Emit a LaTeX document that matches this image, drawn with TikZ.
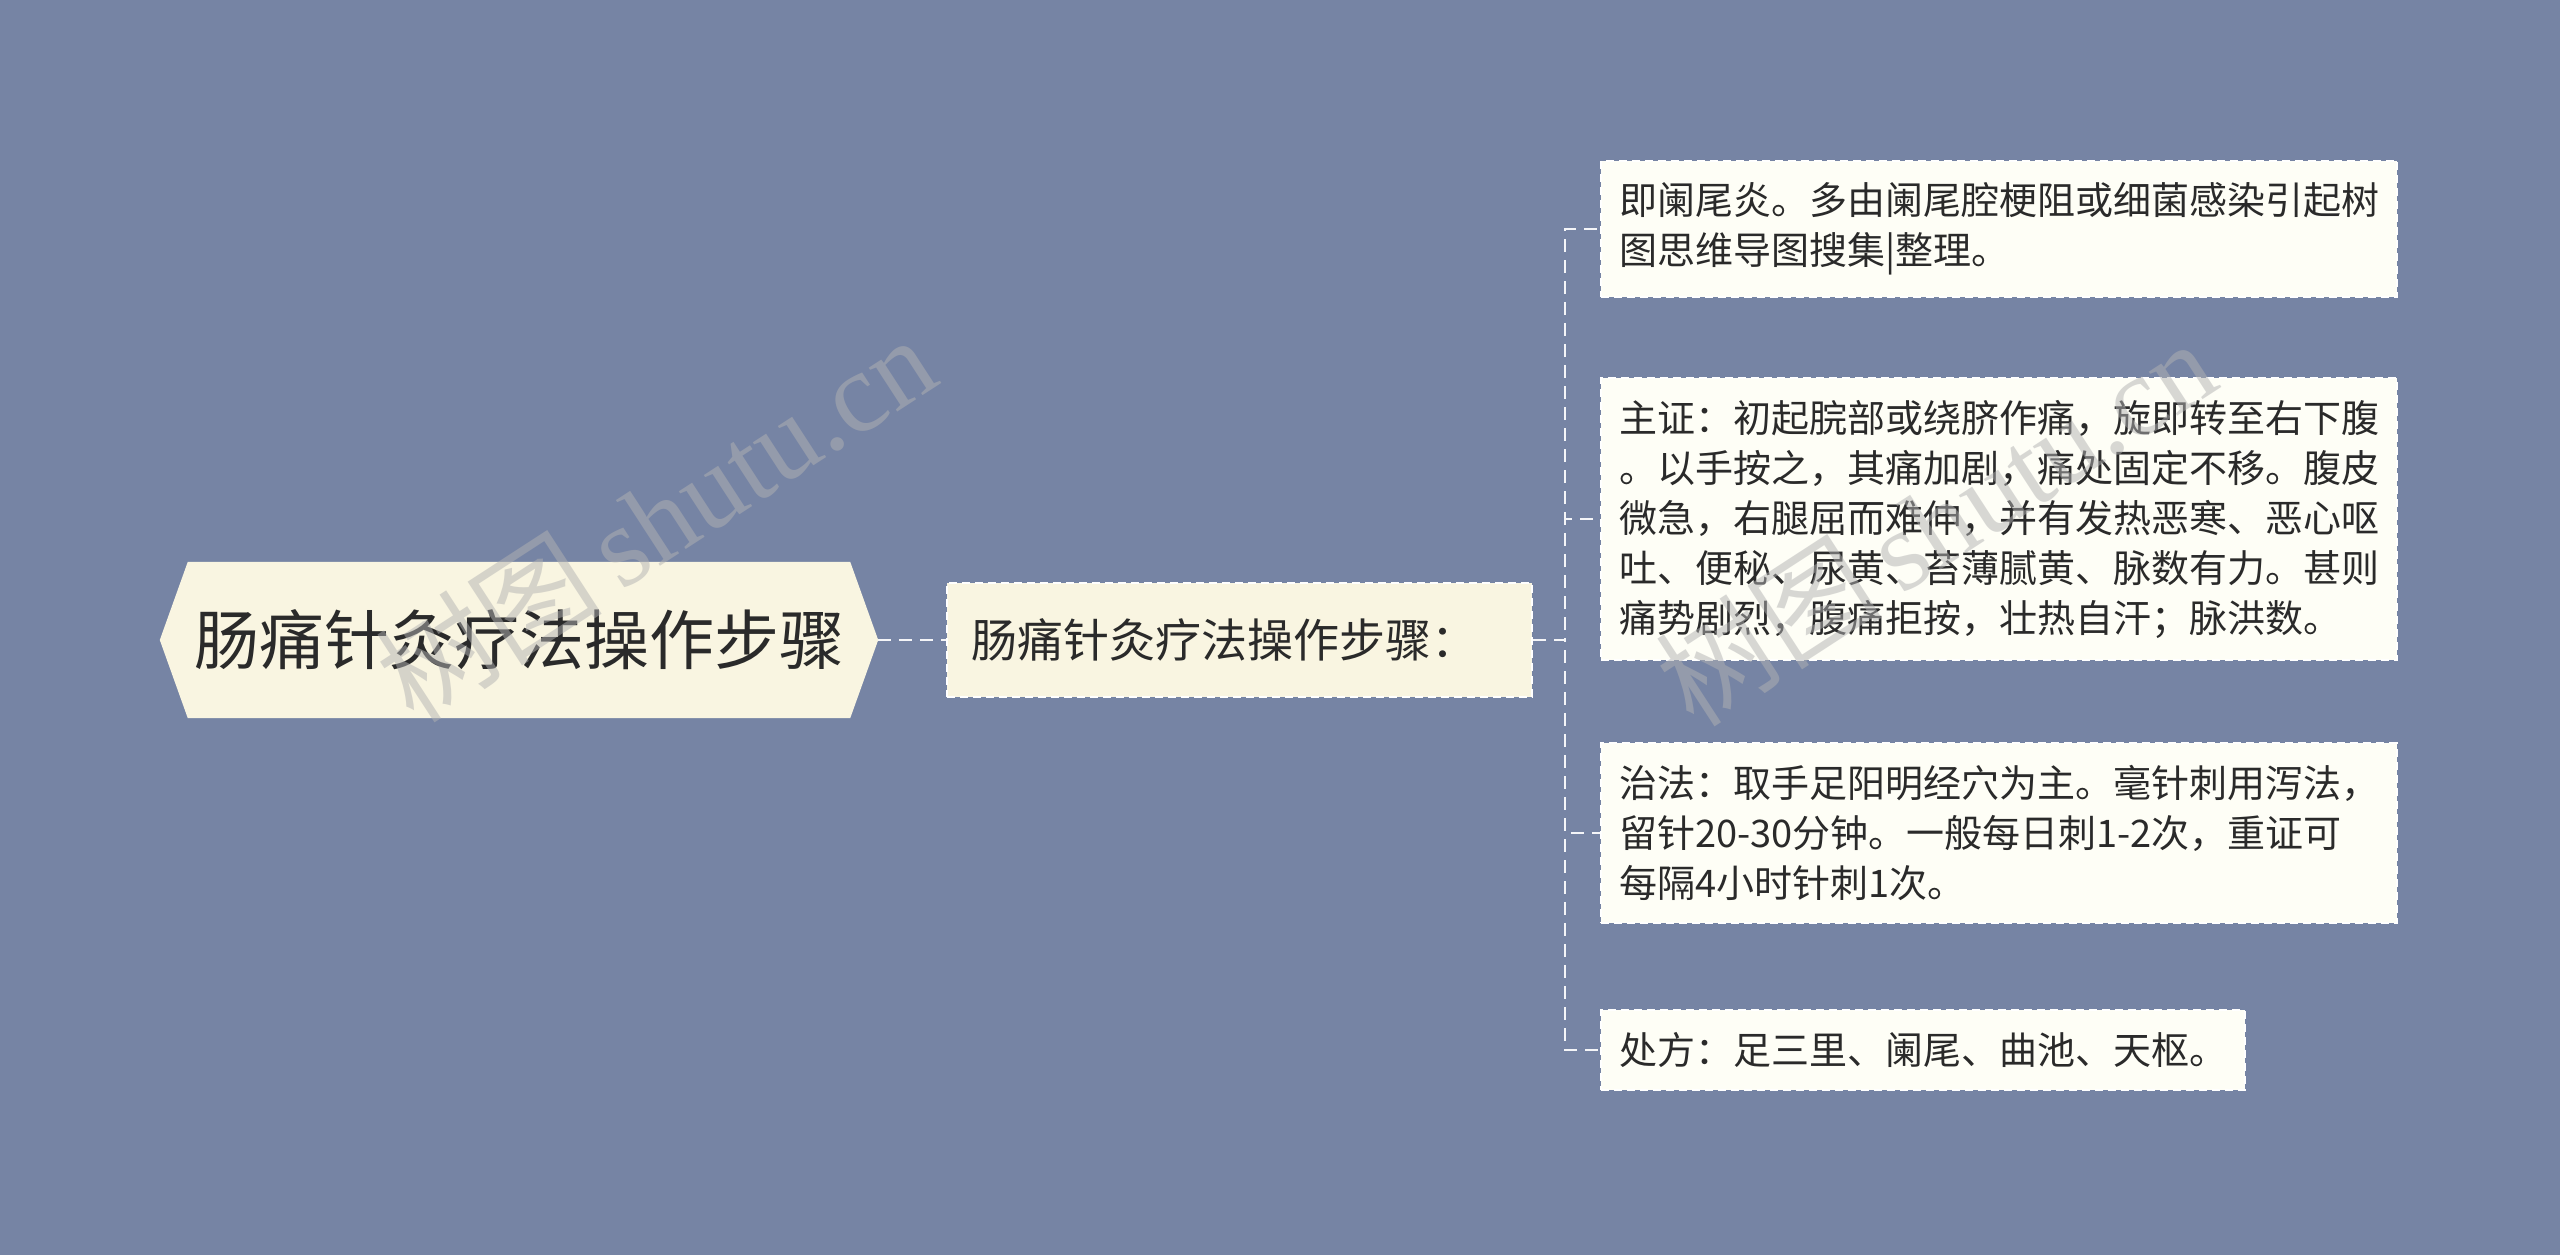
\documentclass[tikz,border=0pt]{standalone}
\usepackage{fontspec}
\setmainfont{Noto Sans CJK SC}
\newfontfamily\wmfont{Liberation Serif}
\newfontfamily\wmcjk{Noto Sans CJK SC}
\usetikzlibrary{backgrounds}
\definecolor{bg}{HTML}{7684A4}
\definecolor{cream}{HTML}{F9F5E1}
\definecolor{leaf}{HTML}{FEFEF6}
\definecolor{ink}{HTML}{2A2A2A}
\tikzset{
  rootbox/.style={minimum width=718pt, minimum height=156pt, inner sep=0pt,
    text=ink, font=\fontsize{65}{78}\selectfont},
  midbox/.style={fill=cream, draw=white, line width=2pt, dash pattern=on 8pt off 5pt,
    text width=537pt, inner xsep=24pt, inner ysep=0pt, minimum height=114pt,
    align=left, text=ink, font=\fontsize{46}{56}\selectfont},
  leafbase/.style={fill=leaf, draw=white, line width=2pt, dash pattern=on 8pt off 5pt,
    inner xsep=18pt, inner ysep=22pt, align=left, anchor=west, text=ink,
    font=\fontsize{38}{50}\selectfont},
  leafbox/.style={leafbase, text width=760pt},
  link/.style={draw=white!92!bg, line width=2.2pt, dash pattern=on 13pt off 8pt},
  wm/.style={text=gray!60!white, opacity=0.5, font=\fontsize{114}{120}\selectfont}
}
\begin{document}
\begin{tikzpicture}[x=1pt,y=-1pt]
\useasboundingbox (0,0) rectangle (2560,1255);
\node[rootbox] (root) at (519,640) {肠痛针灸疗法操作步骤};
\begin{scope}[on background layer]
  \fill[bg] (0,0) rectangle (2560,1255);
  \fill[cream] (root.west) -- ([xshift=28pt]root.north west) -- ([xshift=-28pt]root.north east)
    -- (root.east) -- ([xshift=-28pt]root.south east) -- ([xshift=28pt]root.south west) -- cycle;
\end{scope}
\node[midbox] (mid) at (1239.5,640) {肠痛针灸疗法操作步骤：};
\node[leafbox] (c1) at (1600,229) {即阑尾炎。多由阑尾腔梗阻或细菌感染引起树\\图思维导图搜集|整理。};
\node[leafbox] (c2) at (1600,519) {主证：初起脘部或绕脐作痛，旋即转至右下腹\\。以手按之，其痛加剧，痛处固定不移。腹皮\\微急，右腿屈而难伸，并有发热恶寒、恶心呕\\吐、便秘、尿黄、苔薄腻黄、脉数有力。甚则\\痛势剧烈，腹痛拒按，壮热自汗；脉洪数。};
\node[leafbox] (c3) at (1600,833) {治法：取手足阳明经穴为主。毫针刺用泻法，\\留针20-30分钟。一般每日刺1-2次，重证可\\每隔4小时针刺1次。};
\node[leafbase] (c4) at (1600,1050) {处方：足三里、阑尾、曲池、天枢。};
\draw[link] (root.east) -- (mid.west);
\draw[link] (mid.east) -- ++(32,0) |- (c1.west);
\draw[link] (mid.east) -- ++(32,0) |- (c2.west);
\draw[link] (mid.east) -- ++(32,0) |- (c3.west);
\draw[link] (mid.east) -- ++(32,0) |- (c4.west);
\node[wm, rotate=33] (wm1) at (655,518) {\wmcjk 树图\,\wmfont shutu.cn};
\node[wm, rotate=33] (wm2) at (1935,522) {\wmcjk 树图\,\wmfont shutu.cn};
\end{tikzpicture}
\end{document}
